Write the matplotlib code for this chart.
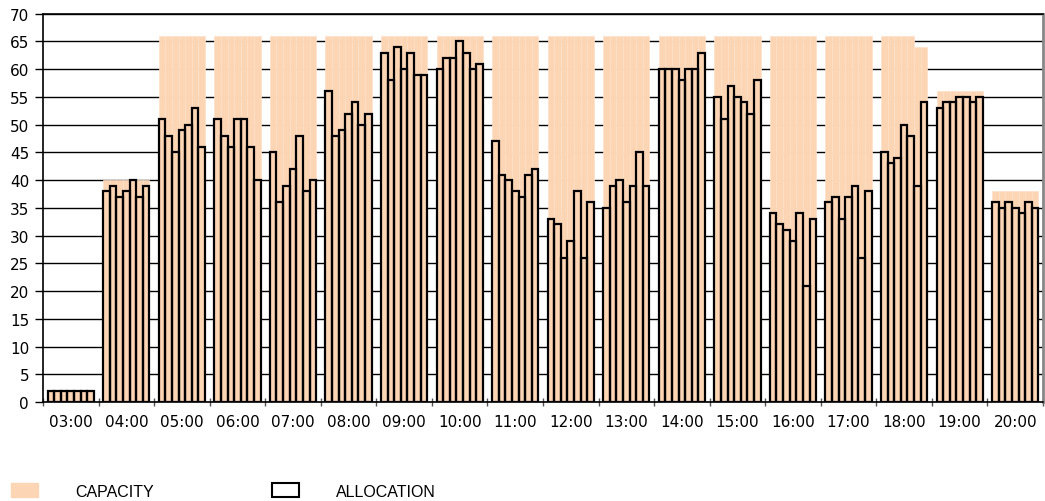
import numpy as np
import matplotlib
matplotlib.use("Agg")
import matplotlib.pyplot as plt
from matplotlib.patches import Patch

# godziny (kategorie osi X)
hours = ['03:00', '04:00', '05:00', '06:00', '07:00', '08:00', '09:00', '10:00', '11:00',
         '12:00', '13:00', '14:00', '15:00', '16:00', '17:00', '18:00', '19:00', '20:00']

# pojemnosc - 7 przedzialow na godzine
capacity = [
    [2, 2, 2, 2, 2, 2, 2],
    [40, 40, 40, 40, 40, 40, 40],
    [66, 66, 66, 66, 66, 66, 66],
    [66, 66, 66, 66, 66, 66, 66],
    [66, 66, 66, 66, 66, 66, 66],
    [66, 66, 66, 66, 66, 66, 66],
    [66, 66, 66, 66, 66, 66, 66],
    [66, 66, 66, 66, 66, 66, 66],
    [66, 66, 66, 66, 66, 66, 66],
    [66, 66, 66, 66, 66, 66, 66],
    [66, 66, 66, 66, 66, 66, 66],
    [66, 66, 66, 66, 66, 66, 66],
    [66, 66, 66, 66, 66, 66, 66],
    [66, 66, 66, 66, 66, 66, 66],
    [66, 66, 66, 66, 66, 66, 66],
    [66, 66, 66, 66, 66, 64, 64],
    [56, 56, 56, 56, 56, 56, 56],
    [38, 38, 38, 38, 38, 38, 38],
]

# przydzial
allocation = [
    [2, 2, 2, 2, 2, 2, 2],
    [38, 39, 37, 38, 40, 37, 39],
    [51, 48, 45, 49, 50, 53, 46],
    [51, 48, 46, 51, 51, 46, 40],
    [45, 36, 39, 42, 48, 38, 40],
    [56, 48, 49, 52, 54, 50, 52],
    [63, 58, 64, 60, 63, 59, 59],
    [60, 62, 62, 65, 63, 60, 61],
    [47, 41, 40, 38, 37, 41, 42],
    [33, 32, 26, 29, 38, 26, 36],
    [35, 39, 40, 36, 39, 45, 39],
    [60, 60, 60, 58, 60, 60, 63],
    [55, 51, 57, 55, 54, 52, 58],
    [34, 32, 31, 29, 34, 21, 33],
    [36, 37, 33, 37, 39, 26, 38],
    [45, 43, 44, 50, 48, 39, 54],
    [53, 54, 54, 55, 55, 54, 55],
    [36, 35, 36, 35, 34, 36, 35],
]

PEACH = '#fcd5b4'
n_slots = 7
w = 0.119

cap = np.array(capacity, dtype=float)
alloc = np.array(allocation, dtype=float)
idx = np.arange(len(hours))
x = (idx[:, None] + (np.arange(n_slots)[None, :] - (n_slots - 1) / 2) * w).ravel()

fig = plt.figure(figsize=(10.45, 5.02), dpi=100)
ax = fig.add_axes([43 / 1045, 1 - 403 / 502, 1000 / 1045, (403 - 14.7) / 502])

ax.bar(x, cap.ravel(), width=w, color=PEACH, edgecolor='#fde0c8', linewidth=0.5, zorder=1)
ax.bar(x, alloc.ravel(), width=w, facecolor='none', edgecolor='black', linewidth=1.6, zorder=3)

ax.set_xlim(-0.5, len(hours) - 0.5)
ax.set_ylim(0, 70)
ax.set_yticks(np.arange(0, 71, 5))
ax.yaxis.grid(True, color='black', linewidth=1.0, zorder=0)
ax.set_axisbelow(True)

ax.set_xticks(idx)
ax.set_xticklabels(hours)
ax.set_xticks(np.arange(len(hours) + 1) - 0.5, minor=True)
ax.tick_params(axis='x', which='major', length=0, pad=9, labelsize=11)
ax.tick_params(axis='x', which='minor', length=6, width=1, color='#555555', direction='inout')
ax.tick_params(axis='y', length=6, width=1, labelsize=11, pad=4)

for s in ['top', 'left', 'bottom']:
    ax.spines[s].set_color('black')
    ax.spines[s].set_linewidth(1.2)
ax.spines['right'].set_color('#888888')
ax.spines['right'].set_linewidth(2)

handles = [Patch(facecolor=PEACH, edgecolor=PEACH, label='CAPACITY'),
           Patch(facecolor='white', edgecolor='black', linewidth=1.5, label='ALLOCATION')]
leg = fig.legend(handles=handles, loc='center left', bbox_to_anchor=(11 / 1045, 1 - 492 / 502),
                 ncol=2, frameon=False, prop={'family': 'Liberation Sans', 'size': 11.5},
                 handlelength=1.7, handleheight=1.0, handletextpad=2.3, columnspacing=7.4,
                 borderpad=0, borderaxespad=0)

fig.savefig('out.png', dpi=100)
